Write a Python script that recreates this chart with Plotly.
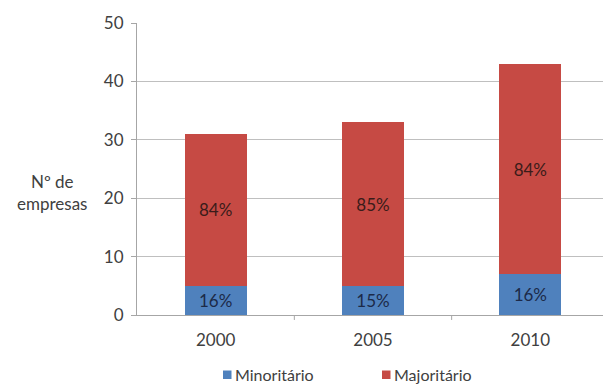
import plotly.graph_objects as go

# Number of companies by year, split by ownership share
years = ["2000", "2005", "2010"]
minoritario = [5, 5, 7]
majoritario = [26, 28, 36]
series_names = ["Minoritário", "Majoritário"]
series_colors = ["#4F81BD", "#C64A44"]

totals = [a + b for a, b in zip(minoritario, majoritario)]
pct_min = [f"{round(100 * a / t)}%" for a, t in zip(minoritario, totals)]
pct_maj = [f"{round(100 * b / t)}%" for b, t in zip(majoritario, totals)]

FONT = "Lato, 'Open Sans', sans-serif"
AXIS_TXT = "#404040"
W, H = 603, 386
ML, MR, MT, MB = 137, 0, 23, 71
PW, PH = W - ML - MR, H - MT - MB


def px_x(px):
    """Horizontal pixel position -> paper coordinate."""
    return (px - ML) / PW


def px_y(py):
    """Vertical pixel position -> paper coordinate."""
    return (H - MB - py) / PH


fig = go.Figure()
fig.add_trace(go.Bar(
    x=years, y=minoritario, name=series_names[0],
    marker=dict(color=series_colors[0], line=dict(width=0)),
    text=pct_min, textposition="inside", insidetextanchor="middle",
    textfont=dict(family=FONT, size=17, color="#1c2a48"),
    width=0.395,
))
fig.add_trace(go.Bar(
    x=years, y=majoritario, name=series_names[1],
    marker=dict(color=series_colors[1], line=dict(width=0)),
    text=pct_maj, textposition="inside", insidetextanchor="middle",
    textfont=dict(family=FONT, size=17, color="#3a1c1a"),
    width=0.395,
))

fig.update_layout(
    barmode="stack",
    width=W, height=H,
    margin=dict(l=ML, r=MR, t=MT, b=MB),
    paper_bgcolor="white", plot_bgcolor="white",
    font=dict(family=FONT, size=17, color=AXIS_TXT),
    uniformtext=dict(mode=False),
    showlegend=False,
)
fig.update_xaxes(
    type="category", range=[-0.5, 2.462],
    showline=True, linecolor="#a6a6a6", linewidth=1,
    ticks="", showgrid=False, ticklabelstandoff=10,
    tickfont=dict(family=FONT, size=17, color=AXIS_TXT),
    fixedrange=True,
)
fig.update_yaxes(
    range=[0, 50], dtick=10,
    showline=True, linecolor="#a6a6a6", linewidth=1,
    ticks="outside", ticklen=5, tickcolor="#a6a6a6",
    showgrid=True, gridcolor="#bfbfbf", gridwidth=1,
    zeroline=False, ticklabelstandoff=4,
    tickfont=dict(family=FONT, size=17, color=AXIS_TXT),
    fixedrange=True,
)

# Category separator tick marks below the x axis
for xb in [0.5, 1.5]:
    fig.add_shape(type="line", xref="x", yref="y domain",
                  x0=xb, x1=xb, y0=0, y1=-0.017,
                  line=dict(color="#a6a6a6", width=1))

# Y axis title, written horizontally to the left of the ticks
fig.add_annotation(
    text="Nº de<br>empresas", xref="paper", yref="paper",
    x=px_x(51.5), y=px_y(192), xanchor="center", yanchor="middle",
    showarrow=False, align="center",
    font=dict(family=FONT, size=17, color=AXIS_TXT),
)

# Legend below the chart: small colour square followed by the series name
legend_x = [223, 382]
legend_cy = 374.5
for name, color, lx in zip(series_names, series_colors, legend_x):
    fig.add_shape(type="rect", xref="paper", yref="paper",
                  x0=px_x(lx), x1=px_x(lx + 8.5),
                  y0=px_y(legend_cy + 4.5), y1=px_y(legend_cy - 4),
                  fillcolor=color, line=dict(width=0))
    fig.add_annotation(
        text=name, xref="paper", yref="paper",
        x=px_x(lx + 10.5), y=px_y(legend_cy), xanchor="left", yanchor="middle",
        showarrow=False, borderpad=0,
        font=dict(family=FONT, size=16, color=AXIS_TXT),
    )

fig.write_html("out.html")
